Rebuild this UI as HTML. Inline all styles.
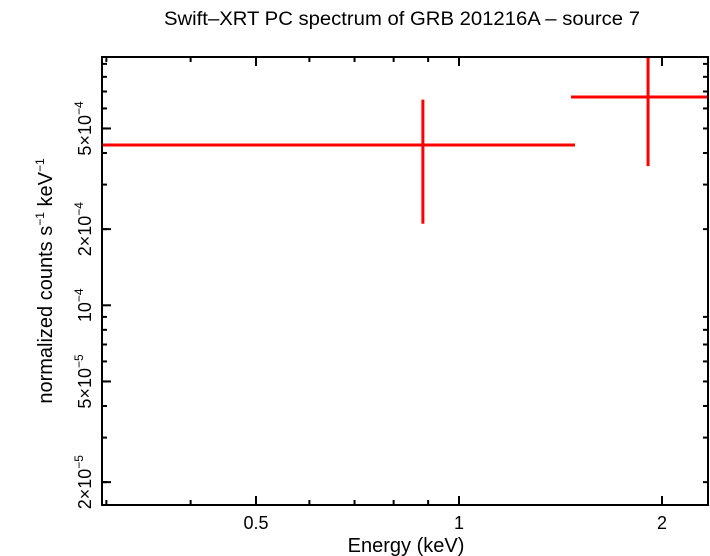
<!DOCTYPE html>
<html><head><meta charset="utf-8"><style>
body{margin:0;background:#fff;}
svg{display:block;font-family:"Liberation Sans",sans-serif;}
</style></head><body>
<svg id="chart" width="710" height="556" viewBox="0 0 710 556">
<text x="402" y="25" text-anchor="middle" font-size="19" textLength="476" lengthAdjust="spacingAndGlyphs">Swift–XRT PC spectrum of GRB 201216A – source 7</text>
<g id="ticks"></g>
<g id="series"></g>
<rect x="102" y="57" width="606" height="448" fill="none" stroke="#000" stroke-width="2"/>
<text x="406" y="552" text-anchor="middle" font-size="20">Energy (keV)</text>
<text transform="translate(52,281) rotate(-90)" text-anchor="middle" font-size="20">normalized counts s<tspan font-size="12" dy="-8">−1</tspan><tspan dy="8"> keV</tspan><tspan font-size="12" dy="-8">−1</tspan></text>
</svg>
<script>
const energyCenters=[0.884,1.907];
const energyLow=[0.2955,1.466];
const energyHigh=[1.486,2.34];
const fluxValues=[4.3e-4,6.66e-4];
const fluxLow=[2.1e-4,3.55e-4];
const fluxHigh=[6.5e-4,1.1e-3];
const xTickLabels=[0.5,1,2];
const xMinorTicks=[0.3,0.4,0.6,0.7,0.8,0.9];
const yTickLabels=[[2e-5,"2×10","−5"],[5e-5,"5×10","−5"],[1e-4,"10","−4"],[2e-4,"2×10","−4"],[5e-4,"5×10","−4"]];
const yMinorTicks=[2e-5,3e-5,4e-5,5e-5,6e-5,7e-5,8e-5,9e-5,2e-4,3e-4,4e-4,5e-4,6e-4,7e-4,8e-4,9e-4];
const X0=102,X1=708,Y0=57,Y1=505;
function xs(v){return Math.max(X0,Math.min(X1,459+674.4*Math.log10(v)));}
function ys(v){return Math.max(Y0,Math.min(Y1,305.3-253*Math.log10(v/1e-4)));}
const NS="http://www.w3.org/2000/svg";
const tk=document.getElementById('ticks'),se=document.getElementById('series');
function line(p,x1,y1,x2,y2,c,w){const l=document.createElementNS(NS,'line');l.setAttribute('x1',x1);l.setAttribute('y1',y1);l.setAttribute('x2',x2);l.setAttribute('y2',y2);l.setAttribute('stroke',c);l.setAttribute('stroke-width',w);p.appendChild(l);return l;}
xMinorTicks.forEach(v=>{const x=xs(v);
const a=line(tk,x,Y1,x,Y1-5,'#000',2);


const b=line(tk,x,Y0,x,Y0+5,'#000',2);

});
xTickLabels.forEach(v=>{const x=xs(v);
const a=line(tk,x,Y1,x,Y1-9,'#000',2);


const b=line(tk,x,Y0,x,Y0+9,'#000',2);


const t=document.createElementNS(NS,'text');t.setAttribute('x',x);t.setAttribute('y',529);t.setAttribute('text-anchor','middle');t.setAttribute('font-size','18');t.textContent=String(v);


tk.appendChild(t);});
yMinorTicks.forEach(v=>{const y=ys(v);
const a=line(tk,X0,y,X0+5,y,'#000',2);


const b=line(tk,X1,y,X1-5,y,'#000',2);

});
yTickLabels.forEach(d=>{const y=ys(d[0]);
const a=line(tk,X0,y,X0+9,y,'#000',2);


const t=document.createElementNS(NS,'text');t.setAttribute('transform','translate(91,'+y+') rotate(-90)');t.setAttribute('text-anchor','middle');t.setAttribute('font-size','18');
t.innerHTML=d[1]+'<tspan font-size="12" dy="-8">'+d[2]+'</tspan>';


tk.appendChild(t);});
energyCenters.forEach((e,i)=>{
const h=line(se,xs(energyLow[i]),ys(fluxValues[i]),xs(energyHigh[i]),ys(fluxValues[i]),'#f00',3);


const v=line(se,xs(e),ys(fluxLow[i]),xs(e),ys(fluxHigh[i]),'#f00',3);

});
</script>
</body></html>
